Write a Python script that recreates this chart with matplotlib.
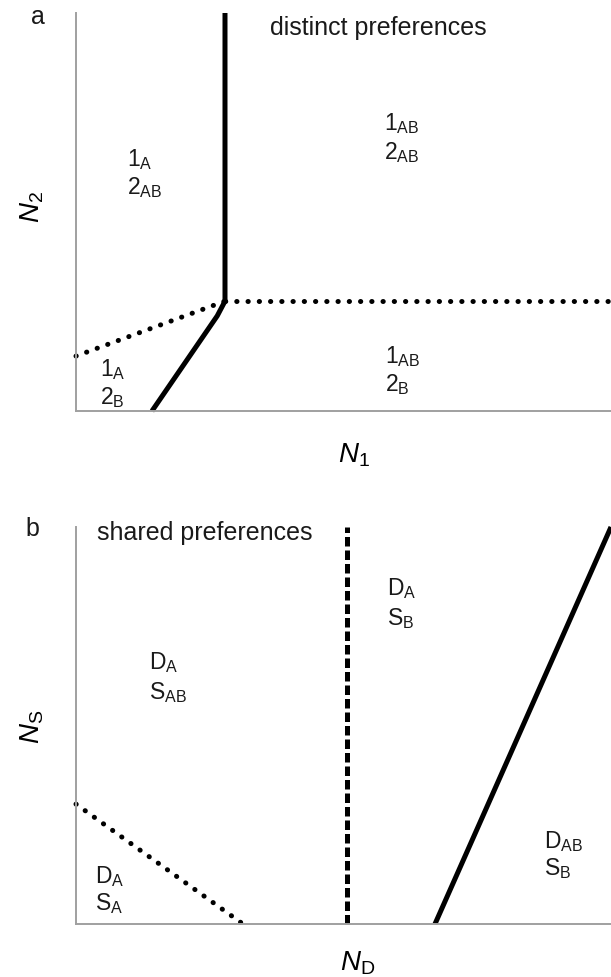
import matplotlib
matplotlib.use("Agg")
import matplotlib.pyplot as plt

plt.rcParams['font.family'] = ['Liberation Sans', 'DejaVu Sans']
plt.rcParams['mathtext.fontset'] = 'custom'
plt.rcParams['mathtext.rm'] = 'Liberation Sans'
plt.rcParams['mathtext.it'] = 'Liberation Sans:italic'

W, H = 611, 978

# phase boundaries, axes scaled 0..100
# panel a: distinct preferences (N1 vs N2)
a_solid_x = [14.2, 26.4, 27.85, 27.85]
a_solid_y = [0.0, 23.9, 27.6, 100.0]
a_dot_left_x = [0.0, 27.85]
a_dot_left_y = [13.8, 27.6]
a_dot_right_x = [27.85, 100.0]
a_dot_right_y = [27.6, 27.6]

# panel b: shared preferences (ND vs NS)
b_dot_x = [0.0, 31.2]
b_dot_y = [30.2, 0.0]
b_dash_x = [50.7, 50.7]
b_dash_y = [0.0, 100.0]
b_solid_x = [67.1, 100.0]
b_solid_y = [0.0, 100.0]

# region labels: (text line 1, text line 2, left px, y px line 1, y px line 2)
a_regions = [
    (r'$\mathrm{1_{A}}$', r'$\mathrm{2_{AB}}$', 127, 160, 188),
    (r'$\mathrm{1_{AB}}$', r'$\mathrm{2_{AB}}$', 384, 124, 153),
    (r'$\mathrm{1_{AB}}$', r'$\mathrm{2_{B}}$', 385, 357, 385),
    (r'$\mathrm{1_{A}}$', r'$\mathrm{2_{B}}$', 100, 370, 398),
]
b_regions = [
    (r'$\mathrm{D_{A}}$', r'$\mathrm{S_{AB}}$', 149, 663, 693),
    (r'$\mathrm{D_{A}}$', r'$\mathrm{S_{B}}$', 387, 589, 619),
    (r'$\mathrm{D_{AB}}$', r'$\mathrm{S_{B}}$', 544, 842, 869),
    (r'$\mathrm{D_{A}}$', r'$\mathrm{S_{A}}$', 95, 877, 904),
]

fig = plt.figure(figsize=(W / 100, H / 100), dpi=100)


def px(x, y):
    return x / W, 1 - y / H


def make_axes(top_px, bottom_px):
    left, bottom = px(76, bottom_px)
    _, top = px(76, top_px)
    ax = fig.add_axes([left, bottom, 1 - left, top - bottom])
    ax.set_xlim(0, 100)
    ax.set_ylim(0, 100)
    for s in ['top', 'right']:
        ax.spines[s].set_visible(False)
    for s in ['left', 'bottom']:
        ax.spines[s].set_color('#a0a0a0')
        ax.spines[s].set_linewidth(1.4)
    ax.set_xticks([])
    ax.set_yticks([])
    return ax


lw = 3.6
dotted = (0, (0.05, 2.2))
dashed = (0, (1.9, 0.8))

ax1 = make_axes(14, 412)
ax1.plot(a_solid_x, a_solid_y, color='black', lw=lw, solid_capstyle='butt', clip_on=False)
ax1.plot(a_dot_left_x, a_dot_left_y, color='black', lw=lw, ls=dotted,
         dash_capstyle='round', clip_on=False)
ax1.plot(a_dot_right_x, a_dot_right_y, color='black', lw=lw, ls=dotted,
         dash_capstyle='round', clip_on=False)

ax2 = make_axes(528, 925)
ax2.plot(b_dot_x, b_dot_y, color='black', lw=lw, ls=dotted,
         dash_capstyle='round', clip_on=False)
ax2.plot(b_dash_x, b_dash_y, color='black', lw=lw, ls=dashed,
         dash_capstyle='butt', clip_on=False)
ax2.plot(b_solid_x, b_solid_y, color='black', lw=lw, solid_capstyle='butt', clip_on=False)

fs = 16.5
for regions in (a_regions, b_regions):
    for l1, l2, x, y1, y2 in regions:
        fig.text(*px(x, y1), l1, fontsize=fs, ha='left', va='center', color='#1a1a1a')
        fig.text(*px(x, y2), l2, fontsize=fs, ha='left', va='center', color='#1a1a1a')

fig.text(*px(38, 17), 'a', fontsize=18, ha='center', va='center', color='#1a1a1a')
fig.text(*px(32, 529), 'b', fontsize=18, ha='center', va='center', color='#1a1a1a')
fig.text(*px(270, 28), 'distinct preferences', fontsize=18, ha='left', va='center',
         color='#1a1a1a')
fig.text(*px(97, 533), 'shared preferences', fontsize=18, ha='left', va='center',
         color='#1a1a1a')

fig.text(*px(32, 207), r'$N_{2}$', fontsize=20, ha='center', va='center', rotation=90)
fig.text(*px(354, 455), r'$N_{1}$', fontsize=20, ha='center', va='center')
fig.text(*px(32, 727), r'$N_{\mathrm{S}}$', fontsize=20, ha='center', va='center', rotation=90)
fig.text(*px(358, 963), r'$N_{\mathrm{D}}$', fontsize=20, ha='center', va='center')

fig.savefig('out.png', dpi=100)
